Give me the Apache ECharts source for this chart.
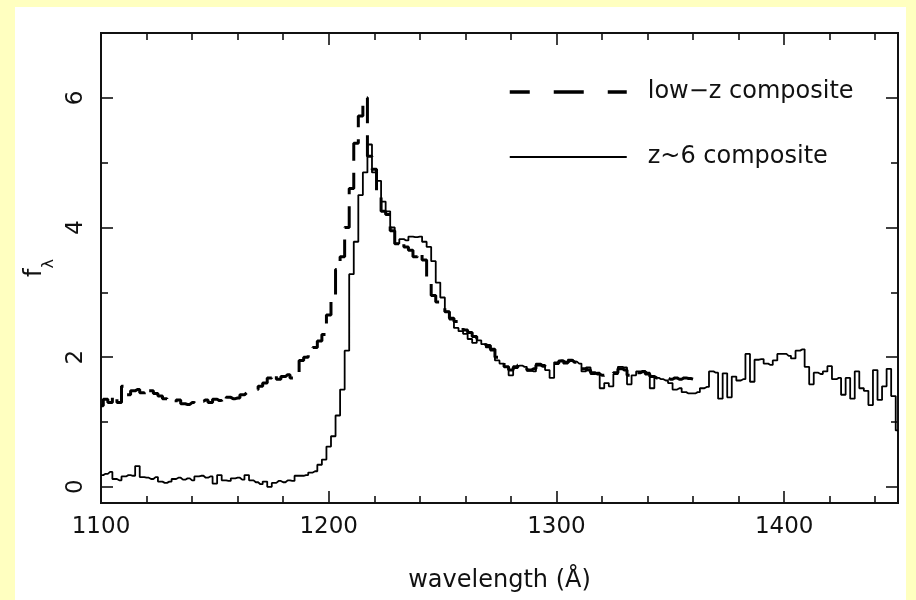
<!DOCTYPE html>
<html>
<head>
<meta charset="utf-8">
<script src="https://cdn.jsdelivr.net/npm/echarts@6/dist/echarts.min.js"></script>
<style>
html,body{margin:0;padding:0;background:#FFFFC0;}
#wrap{position:relative;width:916px;height:600px;background:#FFFFC0;overflow:hidden;}
#panel{position:absolute;left:15px;top:7px;width:891px;height:593px;background:#ffffff;}
#chart{position:absolute;left:0;top:0;width:916px;height:600px;}
</style>
</head>
<body>
<div id="wrap"><div id="panel"></div><div id="chart"></div></div>
<script>
// ---- data ----
const seriesNames = ['low\u2212z composite', 'z~6 composite'];

const wavelength = [
  1100,1102,1104,1106,1108,1110,1112,1114,1116,1118,
  1120,1122,1124,1126,1128,1130,1132,1134,1136,1138,
  1140,1142,1144,1146,1148,1150,1152,1154,1156,1158,
  1160,1162,1164,1166,1168,1170,1172,1174,1176,1178,
  1180,1182,1184,1186,1188,1190,1192,1194,1196,1198,
  1200,1202,1204,1206,1208,1210,1212,1214,1216,1218,
  1220,1222,1224,1226,1228,1230,1232,1234,1236,1238,
  1240,1242,1244,1246,1248,1250,1252,1254,1256,1258,
  1260,1262,1264,1266,1268,1270,1272,1274,1276,1278,
  1280,1282,1284,1286,1288,1290,1292,1294,1296,1298,
  1300,1302,1304,1306,1308,1310,1312,1314,1316,1318,
  1320,1322,1324,1326,1328,1330,1332,1334,1336,1338,
  1340,1342,1344,1346,1348,1350,1352,1354,1356,1358,
  1360,1362,1364,1366,1368,1370,1372,1374,1376,1378,
  1380,1382,1384,1386,1388,1390,1392,1394,1396,1398,
  1400,1402,1404,1406,1408,1410,1412,1414,1416,1418,
  1420,1422,1424,1426,1428,1430,1432,1434,1436,1438,
  1440,1442,1444,1446,1448,1450
];

// low-z composite (dashed), 1100-1360
const lowZ = [
  1.25,1.35,1.30,1.42,1.30,1.55,1.42,1.48,1.50,1.45,
  1.40,1.48,1.44,1.40,1.36,1.32,1.30,1.34,1.28,1.27,
  1.30,1.27,1.32,1.34,1.30,1.35,1.33,1.28,1.38,1.36,
  1.37,1.42,1.45,1.48,1.50,1.55,1.60,1.68,1.75,1.66,
  1.70,1.73,1.68,1.76,1.95,2.00,2.10,2.15,2.25,2.35,
  2.65,2.90,3.35,3.55,4.00,4.60,5.30,5.72,6.00,5.10,
  4.90,4.50,4.25,4.20,3.95,3.75,3.80,3.70,3.65,3.55,
  3.62,3.50,3.15,2.95,2.85,2.80,2.70,2.60,2.55,2.50,
  2.42,2.38,2.32,2.28,2.22,2.18,2.12,2.00,1.92,1.85,
  1.80,1.84,1.88,1.84,1.80,1.82,1.88,1.86,1.84,1.86,
  1.90,1.94,1.92,1.95,1.92,1.88,1.82,1.80,1.76,1.74,
  1.72,1.74,1.72,1.76,1.82,1.80,1.72,1.70,1.76,1.78,
  1.74,1.70,1.68,1.66,1.68,1.66,1.68,1.66,1.68,1.67,
  1.66
];

// z~6 composite (solid), 1100-1450
const z6 = [
  0.18,0.20,0.23,0.12,0.10,0.16,0.18,0.17,0.32,0.15,
  0.14,0.12,0.15,0.08,0.06,0.08,0.12,0.14,0.11,0.13,
  0.10,0.16,0.17,0.14,0.16,0.05,0.18,0.10,0.09,0.13,
  0.14,0.11,0.18,0.10,0.07,0.04,0.08,0.00,0.06,0.09,
  0.07,0.10,0.09,0.17,0.17,0.18,0.22,0.24,0.34,0.42,
  0.62,0.78,1.10,1.50,2.10,3.28,3.78,4.50,4.85,5.28,
  4.85,4.72,4.40,4.25,4.00,3.75,3.82,3.80,3.86,3.85,
  3.86,3.78,3.70,3.48,3.15,2.92,2.70,2.58,2.45,2.40,
  2.36,2.28,2.22,2.26,2.20,2.15,2.10,1.95,1.90,1.85,
  1.72,1.86,1.87,1.85,1.79,1.78,1.90,1.88,1.80,1.68,
  1.92,1.95,1.90,1.96,1.93,1.90,1.78,1.84,1.74,1.76,
  1.52,1.60,1.55,1.74,1.85,1.84,1.58,1.72,1.78,1.78,
  1.76,1.52,1.68,1.66,1.64,1.60,1.50,1.52,1.46,1.44,
  1.44,1.46,1.52,1.54,1.78,1.76,1.36,1.75,1.38,1.70,
  1.64,1.66,2.05,1.62,1.96,1.97,1.90,1.88,1.95,2.05,
  2.05,2.02,1.98,2.10,2.12,1.85,1.58,1.76,1.74,1.78,
  1.86,1.66,1.68,1.42,1.68,1.36,1.78,1.52,1.48,1.26,
  1.80,1.34,1.55,1.82,1.40,0.87
];

const xMajor = [1100, 1200, 1300, 1400];
const xMinor = [1120,1140,1160,1180,1220,1240,1260,1280,1320,1340,1360,1380,1420,1440];
const yMajor = [0, 2, 4, 6];
const yMinor = [1, 3, 5];

// ---- chart ----
const FONT = 'DejaVu Sans';
const INK = '#111111';
const X_MIN = 1100, X_MAX = 1450, Y_MIN = -0.25, Y_MAX = 7;

const lowPairs = lowZ.map((v, i) => [wavelength[i], v]);
const z6Pairs = z6.map((v, i) => [wavelength[i], v]);

function xAxisDef(position, ticks, len, opts) {
  return Object.assign({
    type: 'value', position: position, min: X_MIN, max: X_MAX,
    axisLine: { show: true, onZero: false, lineStyle: { color: INK, width: 2 } },
    axisTick: { show: true, inside: true, length: len, customValues: ticks, lineStyle: { color: INK, width: 1.6 } },
    axisLabel: { show: false },
    splitLine: { show: false },
    minorTick: { show: false }
  }, opts || {});
}
function yAxisDef(position, ticks, len, opts) {
  return Object.assign({
    type: 'value', position: position, min: Y_MIN, max: Y_MAX,
    axisLine: { show: true, onZero: false, lineStyle: { color: INK, width: 2 } },
    axisTick: { show: true, inside: true, length: len, customValues: ticks, lineStyle: { color: INK, width: 1.6 } },
    axisLabel: { show: false },
    splitLine: { show: false },
    minorTick: { show: false }
  }, opts || {});
}

const option = {
  animation: false,
  backgroundColor: 'transparent',
  grid: { left: 101, right: 18, top: 33, bottom: 97, containLabel: false, outerBoundsMode: 'none' },
  xAxis: [
    xAxisDef('bottom', xMajor, 12, {
      axisLabel: { show: true, customValues: xMajor, margin: 13, color: INK, fontFamily: FONT, fontSize: 23,
                   formatter: function (v) { return String(v); } },
      name: 'wavelength (\u00C5)', nameLocation: 'middle', nameGap: 66,
      nameTextStyle: { color: INK, fontFamily: FONT, fontSize: 24 }
    }),
    xAxisDef('bottom', xMinor, 7),
    xAxisDef('top', xMajor, 12),
    xAxisDef('top', xMinor, 7)
  ],
  yAxis: [
    yAxisDef('left', yMajor, 12, {
      axisLabel: { show: true, customValues: yMajor, rotate: 90, margin: 13, color: INK, fontFamily: FONT, fontSize: 23,
                   formatter: function (v) { return String(v); } },
      name: '{f|f}{s|\u03BB}', nameLocation: 'middle', nameGap: 42, nameRotate: 90,
      nameTextStyle: {
        color: INK, fontFamily: FONT,
        rich: {
          f: { fontFamily: FONT, fontSize: 24, color: INK, lineHeight: 34, verticalAlign: 'top' },
          s: { fontFamily: FONT, fontSize: 16, color: INK, lineHeight: 34, verticalAlign: 'bottom' }
        }
      }
    }),
    yAxisDef('left', yMinor, 7),
    yAxisDef('right', yMajor, 12),
    yAxisDef('right', yMinor, 7)
  ],
  legend: {
    orient: 'vertical', left: 503, top: 75,
    itemWidth: 117, itemHeight: 14, itemGap: 41,
    selectedMode: false,
    textStyle: { color: INK, fontFamily: FONT, fontSize: 24, padding: [0, 0, 0, 16] },
    data: [
      { name: seriesNames[0], lineStyle: { color: '#000', width: 3.5, type: [30, 24], dashOffset: 10 }, itemStyle: { opacity: 0 } },
      { name: seriesNames[1], lineStyle: { color: '#000', width: 2 }, itemStyle: { opacity: 0 } }
    ]
  },
  series: [
    {
      name: seriesNames[0], type: 'line', xAxisIndex: 0, yAxisIndex: 0,
      data: lowPairs, step: 'middle', symbol: 'none', silent: true,
      lineStyle: { color: '#000', width: 3, type: [26, 12] },
      itemStyle: { color: '#000' }
    },
    {
      name: seriesNames[1], type: 'line', xAxisIndex: 0, yAxisIndex: 0,
      data: z6Pairs, step: 'middle', symbol: 'none', silent: true,
      lineStyle: { color: '#000', width: 1.8 },
      itemStyle: { color: '#000' }
    }
  ]
};

const chart = echarts.init(document.getElementById('chart'), null, { renderer: 'canvas' });
chart.setOption(option);
</script>
</body>
</html>
